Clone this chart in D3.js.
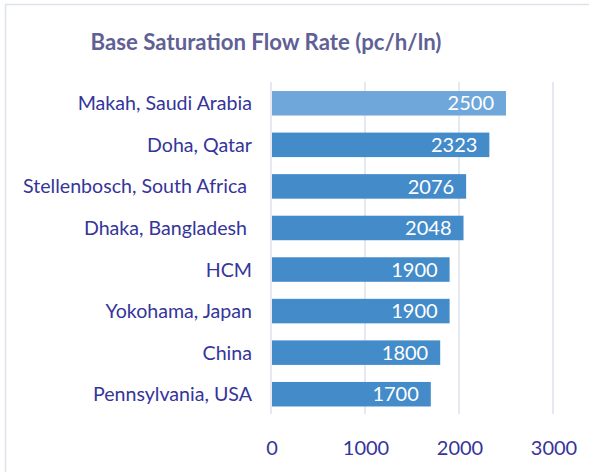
<!DOCTYPE html>
<html lang="en">
  <head>
    <meta charset="UTF-8" />
    <title>Base Saturation Flow Rate</title>
    <script src="https://d3js.org/d3.v7.min.js"></script>
    <style>
      body {
        margin: 0;
        background: #fff;
        font-family: Lato, "Open Sans", sans-serif;
      }
      .grid line {
        stroke: #d9dde6;
        stroke-width: 1.3px;
      }
      .cat {
        fill: #35359a;
        font-size: 19.6px;
        white-space: pre;
      }
      .tick-label {
        fill: #35359a;
        font-size: 20px;
      }
      .value {
        fill: #fff;
        font-size: 20px;
      }
    </style>
  </head>
  <body>
    <script>
      var categories = [
        "Makah, Saudi Arabia",
        "Doha, Qatar",
        "Stellenbosch, South Africa ",
        "Dhaka, Bangladesh ",
        "HCM",
        "Yokohama, Japan",
        "China",
        "Pennsylvania, USA",
      ];
      var values = [2500, 2323, 2076, 2048, 1900, 1900, 1800, 1700];
      var ticks = [0, 1000, 2000, 3000];

      var width = 589,
        height = 472;

      var svg = d3
        .select("body")
        .append("svg")
        .attr("width", width)
        .attr("height", height);

      // chart frame
      svg
        .append("rect")
        .attr("x", 5.5)
        .attr("y", 4.5)
        .attr("width", width)
        .attr("height", height)
        .attr("fill", "#fff")
        .attr("stroke", "#dde2ea")
        .attr("stroke-width", 1.5);

      svg
        .append("text")
        .attr("x", 266)
        .attr("y", 50)
        .attr("text-anchor", "middle")
        .style("font-size", "22.2px")
        .style("font-weight", "bold")
        .style("fill", "#5f6096")
        .text("Base Saturation Flow Rate (pc/h/ln)");

      var x = d3.scaleLinear().domain([0, 3000]).range([271, 553]);
      var y = d3
        .scaleBand()
        .domain(categories)
        .range([82.5, 415])
        .paddingInner(0.41)
        .paddingOuter(0.205);

      svg
        .append("g")
        .attr("class", "grid")
        .selectAll("line")
        .data(ticks)
        .enter()
        .append("line")
        .attr("x1", function (d) {
          return x(d);
        })
        .attr("x2", function (d) {
          return x(d);
        })
        .attr("y1", 82)
        .attr("y2", 414);

      svg
        .selectAll(".bar")
        .data(values)
        .enter()
        .append("rect")
        .attr("class", "bar")
        .attr("x", x(0) + 1)
        .attr("y", function (d, i) {
          return y(categories[i]);
        })
        .attr("width", function (d) {
          return x(d) - x(0) - 1;
        })
        .attr("height", y.bandwidth())
        .attr("fill", function (d, i) {
          return i === 0 ? "#70a7db" : "#448bca";
        });

      svg
        .selectAll(".value")
        .data(values)
        .enter()
        .append("text")
        .attr("class", "value")
        .attr("x", function (d) {
          return x(d) - 12;
        })
        .attr("y", function (d, i) {
          return y(categories[i]) + y.bandwidth() / 2;
        })
        .attr("dy", "0.36em")
        .attr("text-anchor", "end")
        .text(function (d) {
          return d;
        });

      svg
        .selectAll(".cat")
        .data(categories)
        .enter()
        .append("text")
        .attr("class", "cat")
        .attr("x", 252)
        .attr("y", function (d) {
          return y(d) + y.bandwidth() / 2;
        })
        .attr("dy", "0.36em")
        .attr("text-anchor", "end")
        .text(function (d) {
          return d;
        });

      svg
        .selectAll(".tick-label")
        .data(ticks)
        .enter()
        .append("text")
        .attr("class", "tick-label")
        .attr("x", function (d) {
          return x(d) + 1;
        })
        .attr("y", 448)
        .attr("dy", "0.36em")
        .attr("text-anchor", "middle")
        .text(function (d) {
          return d;
        });
    </script>
  </body>
</html>
